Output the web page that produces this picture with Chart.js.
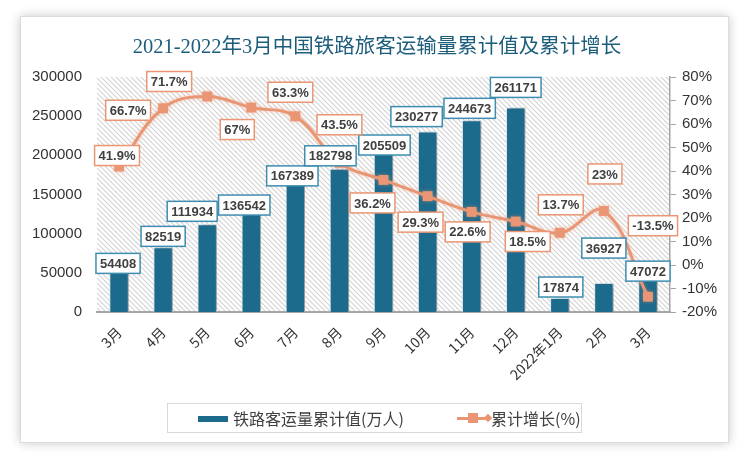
<!DOCTYPE html>
<html>
<head>
<meta charset="utf-8">
<script src="https://cdn.jsdelivr.net/npm/chart.js@4"></script>
<style>
  body { margin: 0; background: #fff; width: 750px; height: 461px; overflow: hidden; position: relative; }
  .card { position: absolute; left: 20px; top: 16px; width: 709px; height: 427px; box-sizing: border-box;
          border: 1px solid #dcdcdc; background: #fff; box-shadow: 0 0 10px rgba(0,0,0,0.22); }
  canvas { position: absolute; left: 0; top: 0; }
  .title { position: absolute; left: 0; width: 712px; top: 12px; text-align: center;
           font: 20.5px "Liberation Serif", "Noto Sans CJK SC", serif; color: #1d5d7c; }
  .legend { position: absolute; left: 146px; top: 386px; width: 415px; height: 30px; box-sizing: border-box;
            border: 1px solid #d9d9d9; font: 16px "Noto Sans CJK SC", "Liberation Sans", sans-serif; color: #404040; }
  .legend span { position: absolute; }
  .sw-bar { left: 30px; top: 12px; width: 30px; height: 6px; background: #1c6a8c; }
  .sw-line { left: 289px; top: 13px; width: 32px; height: 3px; background: #ea9674; }
  .sw-sq { left: 300px; top: 9px; width: 10px; height: 10px; background: #ea9674; }
  .sw-dm { left: 317px; top: 11px; width: 6px; height: 6px; background: #ea9674; transform: rotate(45deg); }
</style>
</head>
<body>
<div class="card">
  <canvas id="chart" width="707" height="425"></canvas>
  <div class="title">2021-2022年3月中国铁路旅客运输量累计值及累计增长</div>
  <div class="legend">
    <span class="sw-bar"></span><span style="left:65px;top:2px">铁路客运量累计值(万人)</span>
    <span class="sw-line"></span><span class="sw-sq"></span><span class="sw-dm"></span>
    <span style="left:323px;top:2px">累计增长(%)</span>
  </div>
</div>
<script>
const months = ['3月', '4月', '5月', '6月', '7月', '8月', '9月', '10月', '11月', '12月', '2022年1月', '2月', '3月'];
const passengers = [54408, 82519, 111934, 136542, 167389, 182798, 205509, 230277, 244673, 261171, 17874, 36927, 47072];
const growth = [41.9, 66.7, 71.7, 67, 63.3, 43.5, 36.2, 29.3, 22.6, 18.5, 13.7, 23, -13.5];

// label placement (pixel shift from the mark)
const barLabelShift  = [[-1,-6],[0,-11],[-15,-13],[-7,0],[-3,-5],[-9,-13],[1,-6],[-11,-15],[-2,-12],[0,-20],[1,-11],[0,-35],[0,-4]];
const lineLabelShift = [[-2,-11],[-35,2],[-38,-15],[-14,22],[-5,-24],[0,-38],[-11,23],[-7,26],[-4,20],[12,20],[1,-28],[1,-37],[5,-71]];

const BAR = '#1c6a8c';
const LINE = 'rgb(234,150,116)';

function hatch() {
  const c = document.createElement('canvas');
  c.width = 5; c.height = 5;
  const g = c.getContext('2d');
  g.fillStyle = '#fff';
  g.fillRect(0, 0, 5, 5);
  g.strokeStyle = '#d4d4d4';
  g.lineWidth = 1.2;
  g.beginPath();
  g.moveTo(-1, -1); g.lineTo(6, 6);
  g.moveTo(-1, 4); g.lineTo(1, 6);
  g.moveTo(4, -1); g.lineTo(6, 1);
  g.stroke();
  return c;
}

const bgPlugin = {
  id: 'bg',
  beforeDraw(chart) {
    const { ctx, chartArea: a } = chart;
    ctx.save();
    ctx.fillStyle = ctx.createPattern(hatch(), 'repeat');
    ctx.fillRect(a.left, a.top, a.right - a.left, a.bottom - a.top);
    ctx.restore();
  },
  beforeDatasetDraw(chart, args) {
    const ctx = chart.ctx;
    ctx.save();
    if (args.index === 0) {
      ctx.shadowColor = 'rgba(0,0,0,0.35)';
      ctx.shadowBlur = 4;
      ctx.shadowOffsetX = 3;
      ctx.shadowOffsetY = 1;
    } else {
      ctx.shadowColor = 'rgba(234,150,116,0.5)';
      ctx.shadowBlur = 4;
    }
  },
  afterDatasetDraw(chart) {
    chart.ctx.restore();
  }
};

function drawBox(ctx, cx, cy, text, border) {
  ctx.font = 'bold 13px "Liberation Sans", sans-serif';
  const w = ctx.measureText(text).width + 8;
  const h = 20;
  ctx.fillStyle = '#fff';
  ctx.fillRect(cx - w / 2, cy - h / 2, w, h);
  ctx.strokeStyle = border;
  ctx.lineWidth = 1.5;
  ctx.strokeRect(cx - w / 2, cy - h / 2, w, h);
  ctx.fillStyle = '#404040';
  ctx.textAlign = 'center';
  ctx.textBaseline = 'middle';
  ctx.fillText(text, cx, cy + 1);
}

const labelPlugin = {
  id: 'labels',
  afterDatasetsDraw(chart) {
    const ctx = chart.ctx;
    ctx.save();
    chart.getDatasetMeta(0).data.forEach((el, i) => {
      drawBox(ctx, el.x + barLabelShift[i][0], el.y + barLabelShift[i][1], String(passengers[i]), '#3e8db0');
    });
    chart.getDatasetMeta(1).data.forEach((el, i) => {
      drawBox(ctx, el.x + lineLabelShift[i][0], el.y + lineLabelShift[i][1], growth[i] + '%', '#ea9674');
    });
    ctx.restore();
  }
};

new Chart(document.getElementById('chart'), {
  data: {
    labels: months,
    datasets: [{
      type: 'bar',
      label: '铁路客运量累计值(万人)',
      data: passengers,
      yAxisID: 'y',
      backgroundColor: BAR,
      borderColor: '#dbe7ee',
      borderWidth: 1,
      categoryPercentage: 1,
      barPercentage: 0.44,
      order: 2,
    }, {
      type: 'line',
      label: '累计增长(%)',
      data: growth,
      yAxisID: 'y1',
      borderColor: LINE,
      borderWidth: 3,
      tension: 0.4,
      pointStyle: 'rect',
      pointRadius: 7,
      pointBackgroundColor: LINE,
      pointBorderWidth: 0,
      order: 1,
    }]
  },
  options: {
    responsive: false,
    animation: false,
    layout: { padding: { top: 60, left: 0, right: 0, bottom: 0 } },
    plugins: {
      legend: { display: false },
      tooltip: { enabled: false },
    },
    scales: {
      x: {
        grid: { display: false },
        border: { display: true, color: '#a6a6a6', width: 2 },
        ticks: { color: '#333', font: { size: 14, family: '"Noto Sans CJK SC", sans-serif' }, minRotation: 45, maxRotation: 45, padding: 4 },
        afterFit: s => { s.height = 130; },
      },
      y: {
        position: 'left',
        min: 0, max: 300000,
        ticks: { stepSize: 50000, color: '#333', font: { size: 15, family: '"Liberation Sans", sans-serif' }, padding: 7, callback: v => String(v) },
        grid: { display: false },
        border: { display: false },
        afterFit: s => { s.width = 76; },
      },
      y1: {
        position: 'right',
        min: -20, max: 80,
        ticks: { stepSize: 10, color: '#333', font: { size: 15, family: '"Liberation Sans", sans-serif' }, padding: 6, callback: v => v + '%' },
        grid: { drawOnChartArea: false, drawTicks: true, tickLength: 6, color: '#a6a6a6' },
        border: { display: true, color: '#a6a6a6', width: 1.5 },
        afterFit: s => { s.width = 58; },
      },
    },
  },
  plugins: [bgPlugin, labelPlugin],
});
</script>
</body>
</html>
